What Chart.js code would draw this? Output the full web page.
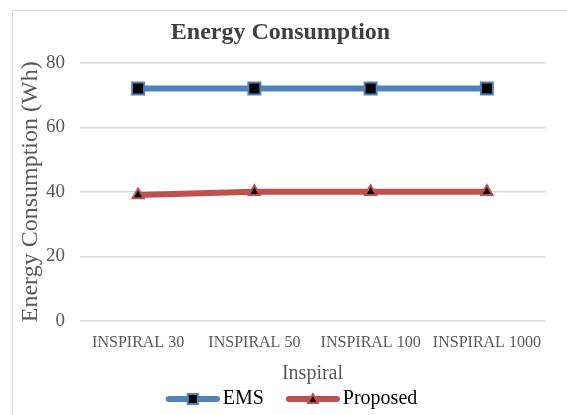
<!DOCTYPE html>
<html>
<head>
<meta charset="utf-8">
<script src="https://cdn.jsdelivr.net/npm/chart.js@4.4.0/dist/chart.umd.min.js"></script>
<style>
  html, body { margin: 0; padding: 0; background: #fff; }
</style>
</head>
<body>
<canvas id="energy" width="567" height="415"></canvas>
<script>
// chart data
const categories = ["INSPIRAL 30", "INSPIRAL 50", "INSPIRAL 100", "INSPIRAL 1000"];
const emsValues = [72, 72, 72, 72];
const proposedValues = [39, 40, 40, 40];
const yTicks = [0, 20, 40, 60, 80];

const blue = "#4f81bd";
const red = "#c0504d";
const serif = "'Liberation Serif', 'Times New Roman', serif";

// legend swatch: line with marker in the middle (line sits right of centre)
function legendSwatch(color, marker) {
    const c = document.createElement("canvas");
    c.width = 83;
    c.height = 16;
    const ctx = c.getContext("2d");
    ctx.strokeStyle = color;
    ctx.lineWidth = 6;
    ctx.lineCap = "round";
    ctx.beginPath();
    ctx.moveTo(32, 8);
    ctx.lineTo(80, 8);
    ctx.stroke();
    ctx.fillStyle = "#000";
    ctx.strokeStyle = color;
    ctx.lineWidth = 2;
    const cx = 56;
    if (marker === "rect") {
        ctx.fillRect(cx - 5, 3, 10, 10);
        ctx.strokeRect(cx - 5, 3, 10, 10);
    } else {
        ctx.beginPath();
        ctx.moveTo(cx, 3);
        ctx.lineTo(cx + 5, 12);
        ctx.lineTo(cx - 5, 12);
        ctx.closePath();
        ctx.fill();
        ctx.stroke();
    }
    return c;
}

// light frame round the chart
const frame = {
    id: "frame",
    beforeDraw(chart) {
        const ctx = chart.ctx;
        ctx.save();
        ctx.strokeStyle = "#d9d9d9";
        ctx.lineWidth = 1;
        ctx.strokeRect(12.5, 10.5, 570, 420);
        ctx.restore();
    },
};

new Chart(document.getElementById("energy"), {
    type: "line",
    data: {
        labels: categories,
        datasets: [
            {
                label: "EMS",
                data: emsValues,
                borderColor: blue,
                borderWidth: 6,
                pointStyle: "rect",
                pointRadius: 8.5,
                pointBackgroundColor: "#000",
                pointBorderColor: blue,
                pointBorderWidth: 2,
                tension: 0,
            },
            {
                label: "Proposed",
                data: proposedValues,
                borderColor: red,
                borderWidth: 6,
                pointStyle: "triangle",
                pointRadius: 6.5,
                pointBackgroundColor: "#000",
                pointBorderColor: red,
                pointBorderWidth: 2,
                tension: 0,
            },
        ],
    },
    options: {
        responsive: false,
        animation: false,
        devicePixelRatio: 1,
        layout: {
            padding: { left: 16, right: 22, top: 12, bottom: -4 },
        },
        scales: {
            x: {
                offset: true,
                grid: { display: false },
                border: { display: false },
                ticks: {
                    color: "#595959",
                    font: { family: serif, size: 16 },
                    maxRotation: 0,
                    autoSkip: false,
                    padding: 4,
                },
                title: {
                    display: true,
                    text: "Inspiral",
                    color: "#595959",
                    font: { family: serif, size: 20, lineHeight: 1 },
                    padding: { top: 8, bottom: 5 },
                },
            },
            y: {
                min: 0,
                max: 80,
                afterBuildTicks: (axis) => {
                    axis.ticks = yTicks.map((v) => ({ value: v }));
                },
                afterFit: (axis) => {
                    axis.width = 64;
                },
                grid: { color: "#d9d9d9", lineWidth: 1.5, drawTicks: false },
                border: { display: false },
                ticks: {
                    color: "#595959",
                    font: { family: serif, size: 19 },
                    padding: 15,
                },
                title: {
                    display: true,
                    text: "Energy Consumption (Wh)",
                    color: "#595959",
                    font: { family: serif, size: 24 },
                    padding: { top: 0, bottom: 1 },
                },
            },
        },
        plugins: {
            title: {
                display: true,
                text: "Energy Consumption",
                color: "#404040",
                font: { family: serif, size: 24, weight: "bold" },
                padding: { top: 6, bottom: 16 },
            },
            legend: {
                position: "bottom",
                labels: {
                    usePointStyle: true,
                    pointStyleWidth: 69,
                    boxHeight: 16,
                    color: "#404040",
                    font: { family: serif, size: 20 },
                    padding: 0,
                    generateLabels: (chart) =>
                        chart.data.datasets.map((ds, i) => ({
                            text: ds.label,
                            pointStyle: legendSwatch(ds.borderColor, ds.pointStyle),
                            fillStyle: ds.borderColor,
                            strokeStyle: ds.borderColor,
                            lineWidth: 0,
                            datasetIndex: i,
                        })),
                },
            },
            tooltip: { enabled: false },
        },
    },
    plugins: [frame],
});
</script>
</body>
</html>
